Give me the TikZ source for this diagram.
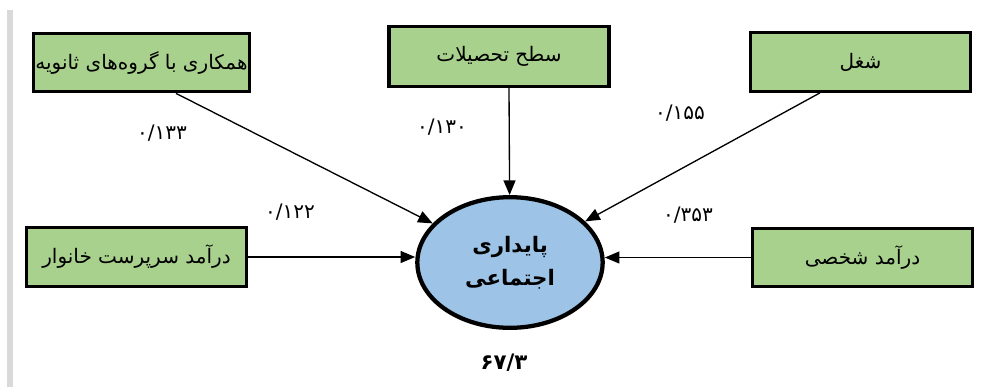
\documentclass[tikz,border=0pt]{standalone}
\usepackage{fontspec}
\setmainfont{DejaVu Sans}
\newfontfamily\arabicfont[Script=Arabic]{DejaVu Sans}
\TeXXeTstate=1
\usetikzlibrary{arrows.meta,calc,shapes.geometric}
\definecolor{boxgreen}{HTML}{A9D18E}
\definecolor{ellblue}{HTML}{9DC3E6}
\definecolor{barGray}{HTML}{D9D9D9}
\tikzset{
  varbox/.style={draw=black, line width=2.3pt, fill=boxgreen, minimum width=165pt, minimum height=44pt, inner sep=0pt, font=\arabicfont\fontsize{15}{17}\selectfont},
  target/.style={ellipse, draw=black, line width=3.2pt, fill=ellblue, minimum width=139pt, minimum height=98pt, inner sep=0pt, align=center, font=\arabicfont\bfseries\fontsize{16}{25}\selectfont},
  coef/.style={font=\arabicfont\fontsize{15}{17}\selectfont, inner sep=0pt},
  link/.style={line width=1pt, -{Triangle[length=11pt,width=9pt]}}
}
\begin{document}
\begin{tikzpicture}[x=0.75pt,y=-0.75pt]
\useasboundingbox (0,0) rectangle (983,387);
\fill[barGray] (7,10) rectangle (13,387);
\node[varbox, minimum width=162pt] (b1) at (141.5,62.5) {\beginR همکاری با گروه‌های ثانویه\endR};
\node[varbox, minimum height=45pt] (b2) at (499,56.5) {\beginR سطح تحصیلات\endR};
\node[varbox] (b3) at (860.5,62) {\beginR شغل\endR};
\node[varbox] (b4) at (136.5,257) {\beginR درآمد سرپرست خانوار\endR};
\node[varbox] (b5) at (862.5,257.5) {\beginR درآمد شخصی\endR};
\node[target] (e) at (510,262.5) {\beginR پایداری\endR\\\beginR اجتماعی\endR};
\coordinate (s1) at ($(b1.south west)+(144,0)$);
\coordinate (s2) at ($(b2.south)+(10,0)$);
\coordinate (s3) at ($(b3.south west)+(71,0)$);
\draw[link] (s1) -- (e);
\draw[link] (s2) -- (e);
\draw[link] (s3) -- (e);
\draw[link] (b4.east) -- (b4.east -| e.west);
\draw[link] (b5.west) -- (b5.west -| e.east);
\node[coef] (c1) at (162,133) {۰/۱۳۳};
\node[coef] (c2) at (442,127) {۰/۱۳۰};
\node[coef] (c3) at (680,113) {۰/۱۵۵};
\node[coef] (c4) at (290,212) {۰/۱۲۲};
\node[coef] (c5) at (688,215) {۰/۳۵۳};
\node[coef, font=\arabicfont\bfseries\fontsize{16}{18}\selectfont] (r2) at (504,363) {۶۷/۳};
\end{tikzpicture}
\end{document}
